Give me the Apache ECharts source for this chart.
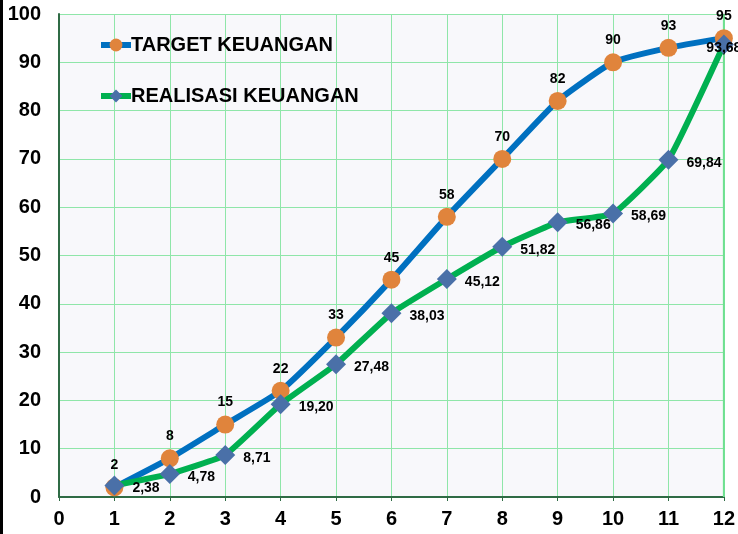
<!DOCTYPE html>
<html>
<head>
<meta charset="utf-8">
<script src="https://cdn.jsdelivr.net/npm/echarts@6/dist/echarts.min.js"></script>
<style>
	html, body { margin: 0; padding: 0; background: #fff; }
	#chart { width: 738px; height: 534px; }
</style>
</head>
<body>
<div id="chart"></div>
<script>
// data bulan ke-1 s/d 12
var months = [1, 2, 3, 4, 5, 6, 7, 8, 9, 10, 11, 12];
var target = [2, 8, 15, 22, 33, 45, 58, 70, 82, 90, 93, 95];
var realisasi = [2.38, 4.78, 8.71, 19.20, 27.48, 38.03, 45.12, 51.82, 56.86, 58.69, 69.84, 93.68];

var font = 'Liberation Sans, Arial, sans-serif';

function pairs(xs, ys) {
	return xs.map(function(x, i) { return [x, ys[i]]; });
}

var realData = pairs(months, realisasi).map(function(p, i) {
	var item = { value: p };
	if (i === months.length - 1) {
		item.label = { position: 'inside', offset: [0, 4] };
	}
	return item;
});

var myChart = echarts.init(document.getElementById('chart'));
var option = {
	animation: false,
	backgroundColor: '#ffffff',
	textStyle: { fontFamily: font },
	graphic: [{
		type: 'rect',
		left: 0, top: 0,
		shape: { width: 3, height: 534 },
		style: { fill: '#000' }
	}],
	grid: {
		left: 59, right: 12, top: 14, bottom: 37,
		show: true,
		backgroundColor: '#f8f8fb',
		borderWidth: 0
	},
	legend: {
		orient: 'vertical',
		left: 93, top: 30,
		itemWidth: 30, itemHeight: 16,
		itemGap: 31,
		lineStyle: { width: 6 },
		textStyle: { fontSize: 20, fontWeight: 'bold', color: '#000', fontFamily: font, padding: [0, 0, 0, -5] },
		data: ['TARGET KEUANGAN', 'REALISASI KEUANGAN']
	},
	xAxis: {
		type: 'value',
		min: 0, max: 12, interval: 1,
		axisLine: { show: true, lineStyle: { color: '#2f6b45', width: 2 } },
		axisTick: { show: true, length: 4, lineStyle: { color: '#2f6b45' } },
		axisLabel: { fontSize: 20, fontWeight: 'bold', color: '#000', margin: 12, fontFamily: font },
		splitLine: { show: true, lineStyle: { color: '#8fe6a9', width: 1 } }
	},
	yAxis: {
		type: 'value',
		min: 0, max: 100, interval: 10,
		axisLine: { show: true, lineStyle: { color: '#2f6b45', width: 2 } },
		axisTick: { show: false },
		axisLabel: { fontSize: 20, fontWeight: 'bold', color: '#000', margin: 18, fontFamily: font },
		splitLine: { show: true, lineStyle: { color: '#8fe6a9', width: 1 } }
	},
	series: [{
		name: 'TARGET KEUANGAN',
		type: 'line',
		smooth: 0.15,
		data: pairs(months, target),
		symbol: 'circle',
		symbolSize: 18,
		lineStyle: { color: '#0070c0', width: 6 },
		itemStyle: { color: '#e0843c', borderWidth: 0 },
		label: {
			show: true, position: 'top', distance: 6,
			fontSize: 14, fontWeight: 'bold', color: '#000', fontFamily: font
		},
		z: 2
	}, {
		name: 'REALISASI KEUANGAN',
		type: 'line',
		smooth: 0.12,
		data: realData,
		symbol: 'diamond',
		symbolSize: 20,
		lineStyle: { color: '#00b050', width: 6 },
		itemStyle: { color: '#4a70a8', borderWidth: 0 },
		label: {
			show: true, position: 'right', distance: 8, offset: [0, 3],
			fontSize: 14, fontWeight: 'bold', color: '#000', fontFamily: font,
			formatter: function(p) { return p.value[1].toFixed(2).replace('.', ','); }
		},
		z: 3
	}, {
		// garis tepi kanan area plot
		type: 'line',
		data: [[12, 0], [12, 100]],
		symbol: 'none',
		silent: true,
		lineStyle: { color: '#6fe090', width: 2 },
		z: 1
	}]
};
myChart.setOption(option);
</script>
</body>
</html>
